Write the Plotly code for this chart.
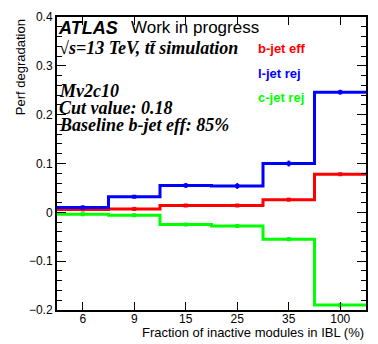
import plotly.graph_objects as go

# IBL inactive-module fractions (bin labels, %)
fractions = ["6", "9", "15", "25", "35", "100"]

# performance degradation per bin
b_eff = [0.006, 0.007, 0.014, 0.014, 0.026, 0.078]
l_rej = [0.010, 0.032, 0.055, 0.054, 0.100, 0.246]
c_rej = [-0.004, -0.006, -0.025, -0.028, -0.055, -0.190]

b_err = [0.002, 0.002, 0.002, 0.002, 0.002, 0.002]
l_err = [0.004, 0.003, 0.005, 0.006, 0.006, 0.005]
c_err = [0.003, 0.003, 0.003, 0.004, 0.004, 0.005]

series = [
    ("b-jet eff", b_eff, b_err, "#ff0000"),
    ("l-jet rej", l_rej, l_err, "#0000ff"),
    ("c-jet rej", c_rej, c_err, "#00ff00"),
]

edges = list(range(len(fractions) + 1))
centers = [i + 0.5 for i in range(len(fractions))]

fig = go.Figure()

for name, vals, errs, color in series:
    # histogram outline
    fig.add_trace(go.Scatter(
        x=edges, y=vals + [vals[-1]],
        mode="lines",
        line=dict(color=color, width=3, shape="hv"),
        name=name,
        showlegend=False,
        hoverinfo="skip",
    ))
    # bin centre markers with errors
    fig.add_trace(go.Scatter(
        x=centers, y=vals,
        mode="markers",
        marker=dict(color=color, size=4, symbol="square"),
        error_y=dict(type="data", array=errs, color=color, thickness=2, width=0),
        showlegend=False,
        hovertemplate=name + ": %{y:.3f}<extra></extra>",
    ))

# plot area in pixels, for placing the text
L, R, T, B = 57, 368, 11, 310


def px(x):
    return (x - L) / (R - L)


def py(y):
    return (B - y) / (B - T)


sans = "Liberation Sans, Arial, sans-serif"
serif = "Liberation Serif, Times New Roman, serif"

texts = [
    ("<b><i>ATLAS</i></b>", 56, 22, sans, 18, "black"),
    ("Work in progress", 129, 22, sans, 17, "black"),
    ("<b><i>\u221as=13 TeV, tt\u0304 simulation</i></b>", 57, 43, serif, 18, "black"),
    ("<b><i>Mv2c10</i></b>", 57, 87, serif, 18, "black"),
    ("<b><i>Cut value: 0.18</i></b>", 57, 104, serif, 18, "black"),
    ("<b><i>Baseline b-jet eff: 85%</i></b>", 57, 121, serif, 18, "black"),
    ("<b>b-jet eff</b>", 257, 43, sans, 13, "#ff0000"),
    ("<b>l-jet rej</b>", 257, 69, sans, 13, "#0000ff"),
    ("<b>c-jet rej</b>", 257, 93, sans, 13, "#00ff00"),
]

annotations = [
    dict(text=t, x=px(x), y=py(y), xref="paper", yref="paper",
         xanchor="left", yanchor="middle", showarrow=False,
         font=dict(family=f, size=s, color=c))
    for t, x, y, f, s, c in texts
]

annotations.append(dict(
    text="Fraction of inactive modules in IBL (%)",
    x=1.0, y=py(333), xref="paper", yref="paper",
    xanchor="right", yanchor="middle", showarrow=False,
    font=dict(family=sans, size=13, color="black"),
))
annotations.append(dict(
    text="Perf degradation",
    x=px(20), y=py(11), xref="paper", yref="paper",
    xanchor="center", yanchor="top", textangle=-90, showarrow=False,
    font=dict(family=sans, size=13, color="black"),
))

fig.update_layout(
    width=378, height=344,
    margin=dict(l=L, r=378 - R, t=T, b=344 - B),
    plot_bgcolor="white",
    paper_bgcolor="white",
    annotations=annotations,
    font=dict(family=sans, size=12, color="black"),
)

fig.update_xaxes(
    range=[0, len(fractions)],
    tickvals=centers, ticktext=fractions,
    showgrid=False, zeroline=False,
    showline=True, linecolor="black", linewidth=2, mirror="ticks",
    ticks="inside", ticklen=8, tickwidth=1, tickcolor="black",
    tickfont=dict(size=12), ticklabelstandoff=-3,
)

fig.update_yaxes(
    range=[-0.2, 0.4],
    tickvals=[-0.2, -0.1, 0, 0.1, 0.2, 0.3, 0.4],
    ticktext=["\u22120.2", "\u22120.1", "0", "0.1", "0.2", "0.3", "0.4"],
    showgrid=False, zeroline=False,
    showline=True, linecolor="black", linewidth=2, mirror="ticks",
    ticks="inside", ticklen=9, tickwidth=1, tickcolor="black",
    minor=dict(dtick=0.02, ticks="inside", ticklen=5, tickcolor="black"),
    tickfont=dict(size=12),
)

# drop the page margin so the figure sits at the window corner
fig.write_html(
    "out.html",
    config={"displayModeBar": False},
    post_script="document.body.style.margin='0';",
)
